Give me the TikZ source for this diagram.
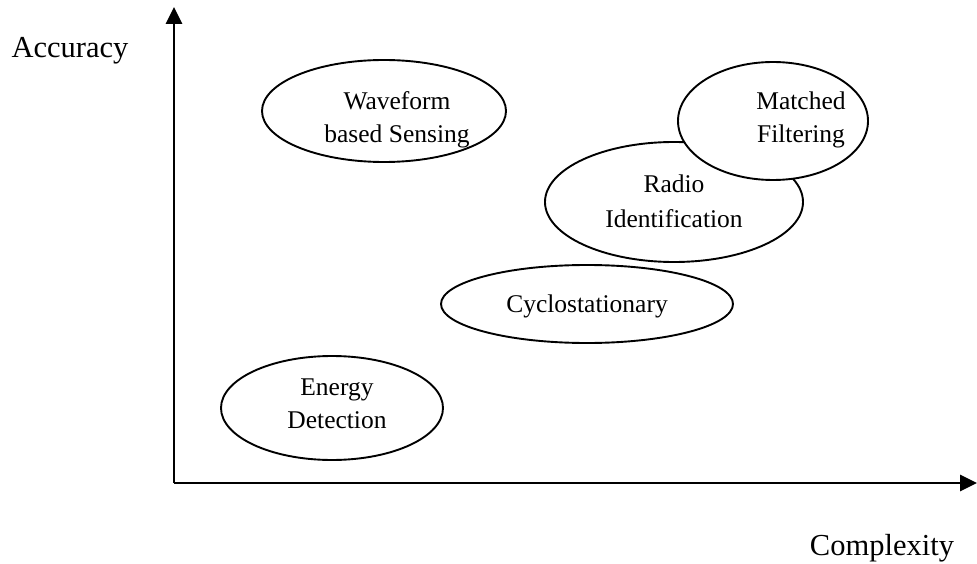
\documentclass[tikz,border=0pt]{standalone}
\usepackage{fontspec}
\setmainfont{Liberation Serif}
\usetikzlibrary{arrows.meta,shapes.geometric}
\begin{document}
\begin{tikzpicture}[x=1pt,y=-1pt,
  axis/.style={line width=2.7pt,-{Triangle[length=17pt,width=16pt]}},
  blob/.style={draw,line width=1.9pt,ellipse,inner sep=0pt,fill=white},
  lbl/.style={anchor=base,font=\fontsize{25.5}{30}\selectfont,inner sep=0pt},
  axlbl/.style={anchor=base,font=\fontsize{30.5}{34}\selectfont,inner sep=0pt}]
\useasboundingbox (0,0) rectangle (977,564);
\coordinate (O) at (174,483);
\coordinate (Ytip) at (174,7);
\coordinate (Xtip) at (977,483);
\draw[axis] (O) -- (Ytip);
\draw[axis] (O) -- (Xtip);
\node[axlbl] (acc) at (70,58) {Accuracy};
\node[axlbl] (cmp) at (882,555) {Complexity};
% ellipses
\node[blob,minimum width=244pt,minimum height=102pt] (wf) at (384,111) {};
\node[blob,minimum width=258pt,minimum height=120pt] (ri) at (674,202) {};
\node[blob,minimum width=190pt,minimum height=118pt] (mf) at (773,121) {};
\node[blob,minimum width=292pt,minimum height=78pt] (cy) at (587,304) {};
\node[blob,minimum width=222pt,minimum height=104pt] (ed) at (332,408) {};
% texts
\node[lbl] (wf1) at (397,110) {Waveform};
\node[lbl] (wf2) at (397,143) {based Sensing};
\node[lbl] (mf1) at (801,110) {Matched};
\node[lbl] (mf2) at (801,143) {Filtering};
\node[lbl] (ri1) at (674,193) {Radio};
\node[lbl] (ri2) at (674,227) {Identification};
\node[lbl] (cy1) at (587,312) {Cyclostationary};
\node[lbl] (ed1) at (337,395) {Energy};
\node[lbl] (ed2) at (337,428) {Detection};
\end{tikzpicture}
\end{document}
